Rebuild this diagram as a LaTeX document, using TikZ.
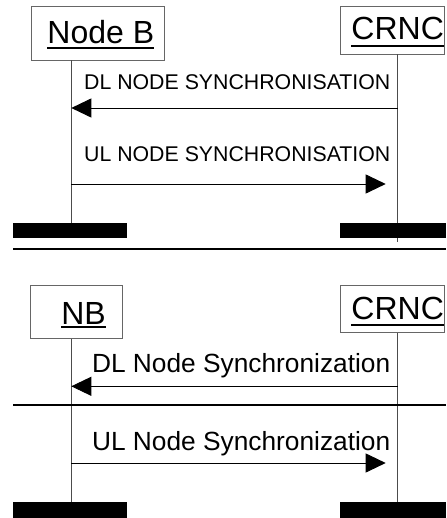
\documentclass[tikz,border=0pt]{standalone}
\usepackage{fontspec}
\setmainfont{Liberation Sans}
\usetikzlibrary{arrows.meta}
\tikzset{
  entity/.style={draw=black!60, line width=0.8pt, fill=white},
  head/.style={inner sep=0pt, font=\fontsize{32}{32}\selectfont},
  ulin/.style={line width=2pt},
  life/.style={draw=black!70, line width=0.9pt},
  msg/.style={draw=black, line width=0.9pt, -{Triangle[length=20pt,width=19pt]}},
  lblA/.style={inner sep=0pt, anchor=base east, font=\fontsize{21.3}{21.3}\selectfont},
  lblB/.style={inner sep=0pt, anchor=base east, font=\fontsize{26.3}{26.3}\selectfont},
  endbar/.style={fill=black, draw=none},
  sep/.style={line width=2pt}
}
\begin{document}
\begin{tikzpicture}[x=1pt,y=-1pt]
\useasboundingbox (0,0) rectangle (446,518);

% ---------- upper chart ----------
\node[entity, minimum width=133pt, minimum height=54pt] (nodeb) at (97.5,33) {};
\node[head, anchor=base] (tnodeb) at (100.8,43.3) {Node B};
\draw[ulin] ([yshift=-5pt]tnodeb.base west) -- ([yshift=-5pt]tnodeb.base east);
\node[entity, minimum width=104pt, minimum height=48pt] (crnc1) at (392,30) {};
\node[head, anchor=base] (tcrnc1) at (397.7,40) {CRNC};
\draw[ulin] ([yshift=-6pt]tcrnc1.base west) -- ([yshift=-6pt]tcrnc1.base east);

\coordinate (nbend1) at (71.3,223);
\coordinate (crend1) at (397.7,242);
\draw[life] (nodeb.south -| nbend1) -- (nbend1);
\draw[life] (crnc1.south -| crend1) -- (crend1);

\coordinate (dlA) at (397.7,108);
\coordinate (dlB) at (71.3,108);
\node[lblA] (ldl1) at (390.5,90) {DL NODE SYNCHRONISATION};
\draw[msg] (dlA) -- (dlB);

\coordinate (ulA) at (71.3,184);
\coordinate (ulB) at (385.7,184);
\node[lblA] (lul1) at (390.5,161.7) {UL NODE SYNCHRONISATION};
\draw[msg] (ulA) -- (ulB);

\fill[endbar] (13,222.7) rectangle (127,238);
\fill[endbar] (340,223.5) rectangle (446,238);

\coordinate (sepAl) at (13,249.3);
\coordinate (sepAr) at (446,249.3);
\draw[sep] (sepAl) -- (sepAr);

% ---------- lower chart ----------
\node[entity, minimum width=91.5pt, minimum height=53.3pt] (nb) at (76.5,311.7) {};
\node[head, anchor=base] (tnb) at (83.5,324) {NB};
\draw[ulin] ([yshift=-3pt]tnb.base west) -- ([yshift=-3pt]tnb.base east);
\node[entity, minimum width=104pt, minimum height=47.3pt] (crnc2) at (392,308.7) {};
\node[head, anchor=base] (tcrnc2) at (397.7,319) {CRNC};
\draw[ulin] ([yshift=-6pt]tcrnc2.base west) -- ([yshift=-6pt]tcrnc2.base east);

\coordinate (nbend2) at (71.3,502);
\coordinate (crend2) at (397.7,518);
\draw[life] (nb.south -| nbend2) -- (nbend2);
\draw[life] (crnc2.south -| crend2) -- (crend2);

\coordinate (dlC) at (397.7,386.3);
\coordinate (dlD) at (71.3,386.3);
\node[lblB] (ldl2) at (390.5,372.3) {DL Node Synchronization};
\draw[msg] (dlC) -- (dlD);

\coordinate (sepBl) at (13,404.7);
\coordinate (sepBr) at (446,404.7);
\draw[sep] (sepBl) -- (sepBr);

\coordinate (ulC) at (71.3,463);
\coordinate (ulD) at (385.7,463);
\node[lblB] (lul2) at (390.5,450.7) {UL Node Synchronization};
\draw[msg] (ulC) -- (ulD);

\fill[endbar] (13,501.7) rectangle (127,518);
\fill[endbar] (340,501.7) rectangle (446,518);
\end{tikzpicture}
\end{document}
